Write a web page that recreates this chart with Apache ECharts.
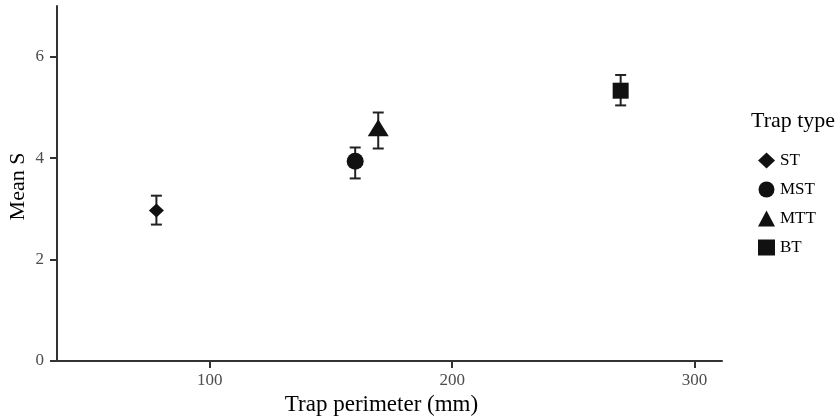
<!DOCTYPE html>
<html>
<head>
<meta charset="utf-8">
<script src="https://cdn.jsdelivr.net/npm/echarts@6/dist/echarts.min.js"></script>
<style>
  html, body { margin: 0; padding: 0; background: #fff; }
  #chart { width: 838px; height: 419px; }
</style>
</head>
<body>
<div id="chart"></div>
<script>
// values
const trapTypes = ['ST', 'MST', 'MTT', 'BT']
const perimeter = [78, 160, 169.5, 269.5]
const meanS = [2.97, 3.94, 4.54, 5.33]
const lowerS = [2.69, 3.60, 4.19, 5.04]
const upperS = [3.26, 4.21, 4.90, 5.64]
const xTicks = [100, 200, 300]
const yTicks = [0, 2, 4, 6]

// marker look per trap type
const symbols = ['diamond', 'circle', 'triangle', 'rect']
const symbolSizes = [[15, 14], 17, [21, 17], 16]
const symbolOffsets = [[0, 0], [0, 0], [0, -3], [0, 0]]

const font = 'Liberation Serif'
const ink = '#111'

const chart = echarts.init(document.getElementById('chart'))

const errorData = perimeter.map((x, i) => [x, lowerS[i], upperS[i]])

const scatterSeries = trapTypes.map((t, i) => ({
  name: t,
  type: 'scatter',
  symbol: symbols[i],
  symbolSize: symbolSizes[i],
  symbolOffset: symbolOffsets[i],
  itemStyle: { color: ink, opacity: 1 },
  z: 3,
  data: [[perimeter[i], meanS[i]]]
}))

const option = {
  animation: false,
  grid: { left: 57, right: 116, top: 6, bottom: 58, outerBoundsMode: 'none' },
  xAxis: {
    type: 'value',
    min: 37,
    max: 311.3,
    name: 'Trap perimeter (mm)',
    nameLocation: 'middle',
    nameGap: 31,
    nameTextStyle: { fontFamily: font, fontSize: 23, color: '#000', padding: [0, 16, 0, 0] },
    axisLine: { show: true, onZero: false, lineStyle: { color: '#333', width: 2 } },
    axisTick: { show: true, length: 7, customValues: xTicks, lineStyle: { color: '#333', width: 2 } },
    axisLabel: { customValues: xTicks, fontFamily: font, fontSize: 17, color: '#4d4d4d', margin: 11 },
    splitLine: { show: false }
  },
  yAxis: {
    type: 'value',
    min: 0,
    max: 7,
    name: 'Mean S',
    nameLocation: 'middle',
    nameGap: 28,
    nameMoveOverlap: false,
    nameTextStyle: { fontFamily: font, fontSize: 22, color: '#000', padding: [0, 6, 0, 0] },
    axisLine: { show: true, onZero: false, lineStyle: { color: '#333', width: 2 } },
    axisTick: { show: true, length: 7, customValues: yTicks, lineStyle: { color: '#333', width: 2 } },
    axisLabel: { customValues: yTicks, fontFamily: font, fontSize: 17, color: '#4d4d4d', margin: 13 },
    splitLine: { show: false }
  },
  legend: {
    orient: 'vertical',
    left: 753,
    top: 147,
    itemWidth: 17,
    itemHeight: 16,
    itemGap: 12,
    data: trapTypes,
    textStyle: { fontFamily: font, fontSize: 17, color: '#000' }
  },
  graphic: [{
    type: 'text',
    left: 751,
    top: 110,
    style: { text: 'Trap type', font: '22px "Liberation Serif"', fill: '#000' }
  }],
  series: [{
    name: 'error',
    type: 'custom',
    z: 2,
    encode: { x: 0, y: [1, 2] },
    renderItem: (params, api) => {
      const x = api.value(0)
      const lo = api.coord([x, api.value(1)])
      const hi = api.coord([x, api.value(2)])
      const w = 5.5
      const style = { stroke: '#222', lineWidth: 2 }
      return {
        type: 'group',
        children: [
          { type: 'line', shape: { x1: lo[0], y1: lo[1], x2: hi[0], y2: hi[1] }, style },
          { type: 'line', shape: { x1: hi[0] - w, y1: hi[1], x2: hi[0] + w, y2: hi[1] }, style },
          { type: 'line', shape: { x1: lo[0] - w, y1: lo[1], x2: lo[0] + w, y2: lo[1] }, style }
        ]
      }
    },
    data: errorData
  }].concat(scatterSeries)
}

chart.setOption(option)
</script>
</body>
</html>
